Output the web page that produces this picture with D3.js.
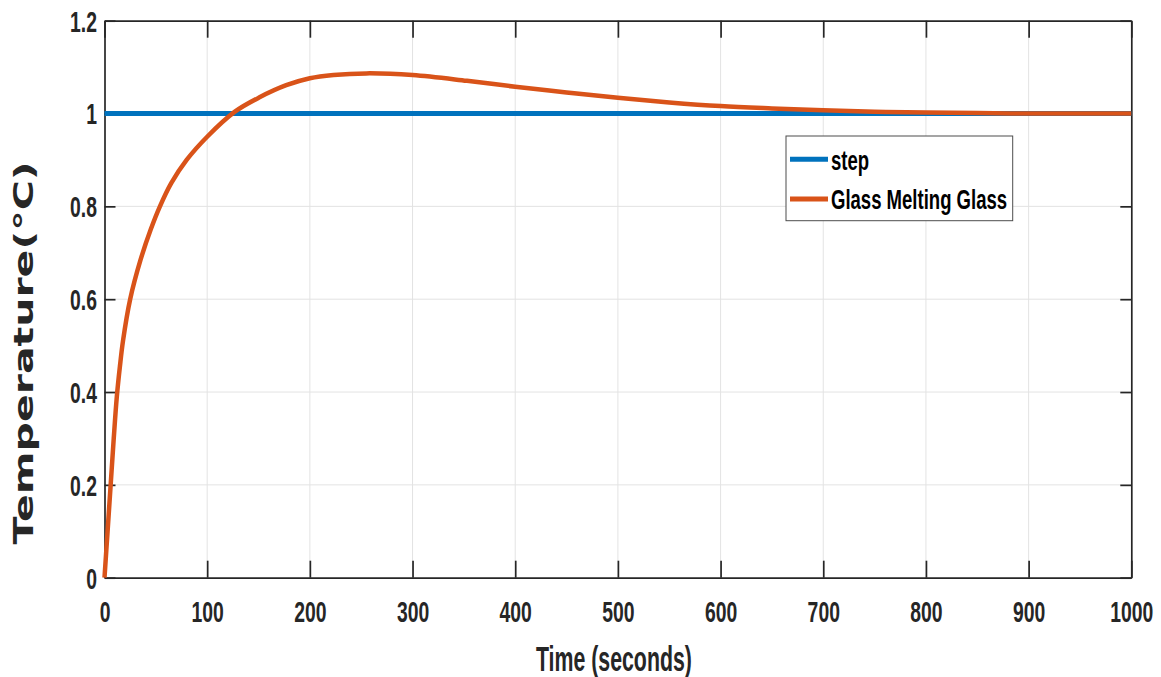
<!DOCTYPE html>
<html>
<head>
<meta charset="utf-8">
<script src="https://cdn.jsdelivr.net/npm/d3@7"></script>
<style>
body { margin: 0; background: #fff; }
svg { display: block; }
</style>
</head>
<body>
<div id="chart"></div>
<script>
// data
var time = [0, 3, 6, 9, 12, 15, 18, 25, 35, 45, 54, 65, 80, 100, 127, 151, 177, 200, 223, 255, 300,
            353, 400, 450, 500, 550, 600, 650, 700, 750, 800, 850, 900, 950, 1000];
var glass = [0, 0.1, 0.2, 0.3, 0.39, 0.455, 0.51, 0.6, 0.684, 0.75, 0.8, 0.85, 0.9, 0.95, 1.004, 1.035, 1.061, 1.076, 1.083, 1.0865, 1.083,
             1.0705, 1.0577, 1.0455, 1.034, 1.024, 1.016, 1.011, 1.007, 1.004, 1.002, 1.001, 1.0, 1.0, 1.0];
var stepTime = [0, 1000];
var stepValue = [1, 1];
var xTicks = [0, 100, 200, 300, 400, 500, 600, 700, 800, 900, 1000];
var yTicks = [0, 0.2, 0.4, 0.6, 0.8, 1, 1.2];
var seriesNames = ["step", "Glass Melting Glass"];
var seriesColors = ["#0072BD", "#D95319"];

var width = 1161, height = 677;
var plotLeft = 104.5, plotRight = 1131.3, plotTop = 20.7, plotBottom = 577.7;
var stretch = 1.22; // the picture is stretched vertically
var squeeze = 0.82; // narrow look of the labels
var sans = "'Liberation Sans', Arial, sans-serif";

var svg = d3.select("#chart")
    .append("svg")
    .attr("width", width)
    .attr("height", height);

var x = d3.scaleLinear().domain([0, 1000]).range([plotLeft, plotRight]);
var y = d3.scaleLinear().domain([0, 1.2]).range([plotBottom, plotTop]);

// grid
svg.append("g")
    .selectAll("line")
    .data(xTicks.slice(1, -1))
    .enter()
    .append("line")
    .attr("x1", function(d) { return x(d); })
    .attr("x2", function(d) { return x(d); })
    .attr("y1", plotTop)
    .attr("y2", plotBottom)
    .attr("stroke", "#e3e3e3")
    .attr("stroke-width", 1);

svg.append("g")
    .selectAll("line")
    .data(yTicks.slice(1, -1))
    .enter()
    .append("line")
    .attr("x1", plotLeft)
    .attr("x2", plotRight)
    .attr("y1", function(d) { return y(d); })
    .attr("y2", function(d) { return y(d); })
    .attr("stroke", "#e3e3e3")
    .attr("stroke-width", 1);

// axes, ticks pointing inward
var xAxis = d3.axisBottom(x).tickValues(xTicks).tickSizeInner(-17).tickSizeOuter(0).tickFormat(d3.format("d"));
var xTop = d3.axisTop(x).tickValues(xTicks).tickSizeInner(-17).tickSizeOuter(0).tickFormat("");
var yAxis = d3.axisLeft(y).tickValues(yTicks).tickSizeInner(-11).tickSizeOuter(0).tickFormat(d3.format("~g"));
var yRight = d3.axisRight(y).tickValues(yTicks).tickSizeInner(-11).tickSizeOuter(0).tickFormat("");

function styleAxis(g) {
    g.select(".domain").attr("stroke", "#262626").attr("stroke-width", 1.7);
    g.selectAll(".tick line").attr("stroke", "#262626").attr("stroke-width", 1.7);
}

var gx = svg.append("g").attr("transform", "translate(0," + plotBottom + ")").call(xAxis).call(styleAxis);
svg.append("g").attr("transform", "translate(0," + plotTop + ")").call(xTop).call(styleAxis);
var gy = svg.append("g").attr("transform", "translate(" + plotLeft + ",0)").call(yAxis).call(styleAxis);
svg.append("g").attr("transform", "translate(" + plotRight + ",0)").call(yRight).call(styleAxis);

gx.selectAll(".tick text")
    .attr("font-family", sans)
    .attr("font-weight", "bold")
    .attr("font-size", 23.6)
    .attr("fill", "#262626")
    .attr("dy", 0)
    .attr("y", 44.2 / stretch)
    .attr("transform", "scale(" + squeeze + "," + stretch + ")");

gy.selectAll(".tick text")
    .attr("font-family", sans)
    .attr("font-weight", "bold")
    .attr("font-size", 23.6)
    .attr("fill", "#262626")
    .attr("dy", 0)
    .attr("x", -7.5 / squeeze)
    .attr("y", 10.3 / stretch)
    .attr("transform", "scale(" + squeeze + "," + stretch + ")");

// lines
var line = d3.line()
    .x(function(d) { return x(d[0]); })
    .y(function(d) { return y(d[1]); })
    .curve(d3.curveCatmullRom.alpha(0.5));

svg.append("path")
    .datum(d3.zip(stepTime, stepValue))
    .attr("d", line)
    .attr("fill", "none")
    .attr("stroke", seriesColors[0])
    .attr("stroke-width", 5);

svg.append("path")
    .datum(d3.zip(time, glass))
    .attr("d", line)
    .attr("fill", "none")
    .attr("stroke", seriesColors[1])
    .attr("stroke-width", 4.5)
    .attr("stroke-linejoin", "round");

// axis titles
svg.append("g")
    .attr("transform", "translate(" + ((plotLeft + plotRight) / 2 - 4) + ",670.7) scale(1," + stretch + ")")
    .append("text")
    .attr("text-anchor", "middle")
    .attr("font-family", sans)
    .attr("font-weight", "bold")
    .attr("font-size", 29)
    .attr("fill", "#262626")
    .attr("textLength", 156)
    .attr("lengthAdjust", "spacingAndGlyphs")
    .text("Time (seconds)");

svg.append("g")
    .attr("transform", "translate(33,353) rotate(-90) scale(" + stretch + ",1)")
    .append("text")
    .attr("text-anchor", "middle")
    .attr("font-family", "'DejaVu Sans', sans-serif")
    .attr("font-weight", "bold")
    .attr("font-size", 26)
    .attr("fill", "#262626")
    .attr("textLength", 383 / stretch)
    .attr("lengthAdjust", "spacingAndGlyphs")
    .text("Temperature(°C)");

// legend
var legend = svg.append("g");

legend.append("rect")
    .attr("x", 786)
    .attr("y", 136)
    .attr("width", 226.7)
    .attr("height", 84.7)
    .attr("fill", "#fff")
    .attr("stroke", "#4d4d4d")
    .attr("stroke-width", 1);

var rows = legend.selectAll("g.row")
    .data(seriesNames)
    .enter()
    .append("g")
    .attr("class", "row")
    .attr("transform", function(d, i) { return "translate(0," + (i === 0 ? 159.3 : 199) + ")"; });

rows.append("line")
    .attr("x1", 790)
    .attr("x2", 828)
    .attr("stroke", function(d, i) { return seriesColors[i]; })
    .attr("stroke-width", 5);

rows.append("g")
    .attr("transform", "translate(831,10.2) scale(" + squeeze + "," + stretch + ")")
    .append("text")
    .attr("font-family", sans)
    .attr("font-weight", "bold")
    .attr("font-size", 22.6)
    .attr("fill", "#000")
    .text(function(d) { return d; });
</script>
</body>
</html>
